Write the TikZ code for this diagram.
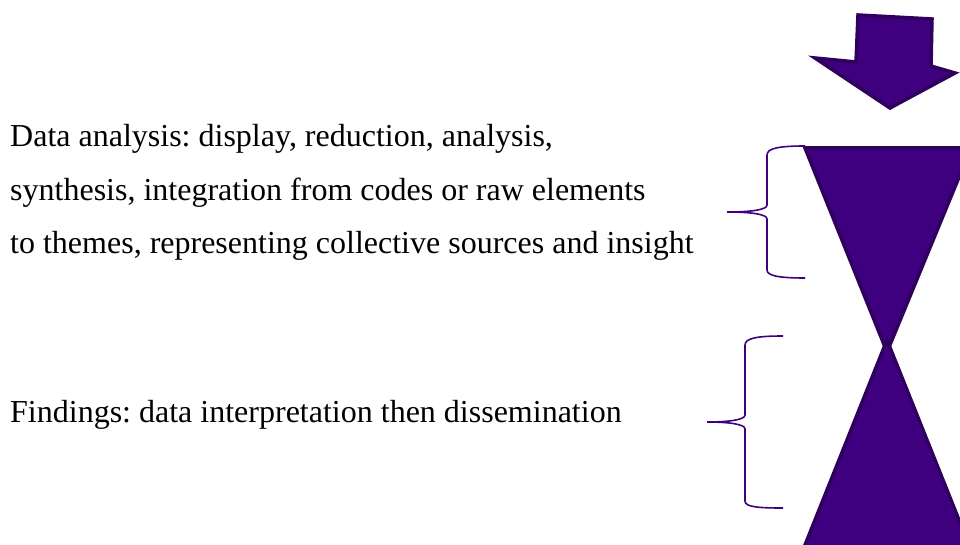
\documentclass[tikz,border=0pt]{standalone}
\usepackage{fontspec}
\setmainfont{Liberation Serif}
\frenchspacing
\definecolor{hgfill}{HTML}{3F007F}
\definecolor{hgline}{HTML}{30005F}
\definecolor{bracecol}{HTML}{3F0080}
\tikzset{
  shapefill/.style={fill=hgfill, draw=hgline, line width=3.5pt, line join=miter},
  bracepath/.style={draw=bracecol, line width=1.6pt},
  txt/.style={anchor=base west, inner sep=0pt, font=\fontsize{32}{38}\selectfont}
}
\begin{document}
\begin{tikzpicture}[x=1pt,y=-1pt]
\useasboundingbox (0,0) rectangle (960,545);
\clip (0,0) rectangle (960,545);
% arrow
\draw[shapefill] (858,15) -- (932,19) -- (931,66) -- (955,73) -- (890,108) -- (815,58) -- (856,62) -- cycle;
% hourglass
\draw[shapefill] (805,148) -- (971,148) -- (887,352) -- cycle;
\draw[shapefill] (887,340) -- (803,550) -- (971,550) -- cycle;
% braces
\draw[bracepath] (805,146) .. controls (780,146) and (767,148) .. (767,155) -- (767,205)
  .. controls (767,210) and (750,212) .. (727,212)
  .. controls (750,212) and (767,214) .. (767,219) -- (767,270)
  .. controls (767,276) and (780,278) .. (805,278);
\draw[bracepath] (783,336) .. controls (758,336) and (745,338) .. (745,345) -- (745,415)
  .. controls (745,420) and (728,422) .. (707,422)
  .. controls (728,422) and (745,424) .. (745,429) -- (745,501)
  .. controls (745,507) and (758,508) .. (783,508);
% texts
\node[txt] (l1) at (10,147) {Data analysis: display, reduction, analysis,};
\node[txt] (l2) at (10,201) {synthesis, integration from codes or raw elements};
\node[txt] (l3) at (10,254) {to themes, representing collective sources and insight};
\node[txt] (f1) at (10,422) {Findings: data interpretation then dissemination};
\end{tikzpicture}
\end{document}
